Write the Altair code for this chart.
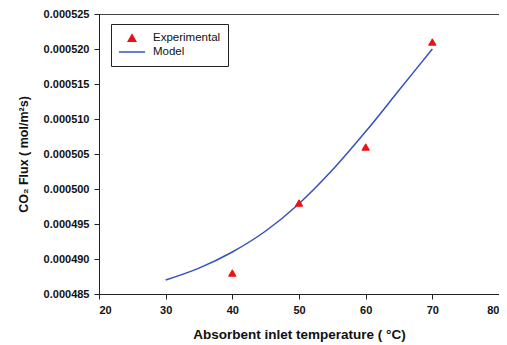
import altair as alt
import pandas as pd

# Experimental data
exp_temp = [40, 50, 60, 70]
exp_flux = [0.000488, 0.000498, 0.000506, 0.000521]

# Model curve
model_temp = [30, 35, 40, 45, 50, 55, 60, 65, 70]
model_flux = [0.0004870, 0.0004887, 0.0004910, 0.0004940, 0.0004979,
              0.0005027, 0.0005082, 0.0005141, 0.0005200]

x_ticks = [20, 30, 40, 50, 60, 70, 80]
y_ticks = [0.000485, 0.000490, 0.000495, 0.000500, 0.000505, 0.000510,
           0.000515, 0.000520, 0.000525]

series = ["Experimental", "Model"]

exp_df = pd.DataFrame({"T": exp_temp, "F": exp_flux, "series": "Experimental"})
mod_df = pd.DataFrame({"T": model_temp, "F": model_flux, "series": "Model"})

FONT = "Liberation Sans"

x_enc = alt.X("T:Q", scale=alt.Scale(domain=[20, 80], nice=False),
              axis=alt.Axis(values=x_ticks, title="Absorbent inlet temperature ( °C)",
                            titleFontSize=13.5, titlePadding=12))
y_enc = alt.Y("F:Q", scale=alt.Scale(domain=[0.000485, 0.000525], nice=False, zero=False),
              axis=alt.Axis(values=y_ticks, format=".6f", title="CO₂ Flux ( mol/m²s)",
                            titleFontSize=12.5, titlePadding=13))

legend = alt.Legend(title=None, orient="none", legendX=12, legendY=10,
                    strokeColor="#222", fillColor="white", padding=7,
                    labelFont=FONT, labelFontSize=11.5, labelColor="#111",
                    labelOffset=7, rowPadding=0, clipHeight=14)

fill_scale = alt.Scale(domain=series, range=["#ee1111", "#3352c0"])
shape_scale = alt.Scale(domain=series, range=["triangle-up", "stroke"])
size_scale = alt.Scale(domain=series, range=[55, 676])

points = alt.Chart(exp_df).mark_point(filled=True, strokeWidth=1, opacity=1).encode(
    x=x_enc, y=y_enc,
    fill=alt.Fill("series:N", scale=fill_scale, legend=legend),
    stroke=alt.Stroke("series:N", scale=fill_scale, legend=legend),
    shape=alt.Shape("series:N", scale=shape_scale, legend=legend),
    size=alt.Size("series:N", scale=size_scale, legend=legend),
)

line = alt.Chart(mod_df).mark_line(strokeWidth=1.5, interpolate="monotone").encode(
    x=x_enc, y=y_enc,
    stroke=alt.Stroke("series:N", scale=fill_scale, legend=legend),
)

chart = alt.layer(line, points).properties(
    width=400, height=280,
    autosize=alt.AutoSizeParams(type="none"),
    padding={"left": 91, "top": 6, "right": 0, "bottom": 49},
).configure_view(
    stroke="#444", strokeWidth=1
).configure_axis(
    grid=False, domainColor="#222", tickColor="#222", tickSize=5,
    labelFont=FONT, labelFontSize=11, labelFontWeight="bold", labelColor="#111",
    labelPadding=5,
    titleFont=FONT, titleFontWeight="bold", titleColor="#111",
)

chart.save("out.html", embed_options={"renderer": "svg", "actions": False})
